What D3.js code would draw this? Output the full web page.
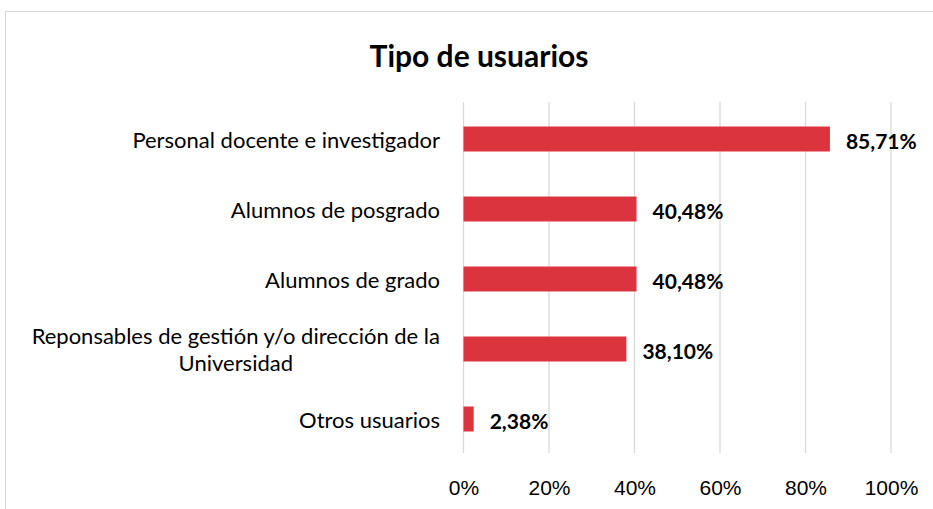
<!DOCTYPE html>
<html>
<head>
<meta charset="utf-8">
<script src="https://cdn.jsdelivr.net/npm/d3@7"></script>
<style>
  html, body { margin: 0; padding: 0; background: #fff; }
  svg { display: block; font-family: Lato, "Open Sans", sans-serif; }
</style>
</head>
<body>
<div id="chart"></div>
<script>
// Tipo de usuarios - horizontal bar chart

const categories = [
  ["Personal docente e investigador"],
  ["Alumnos de posgrado"],
  ["Alumnos de grado"],
  ["Reponsables de gestión y/o dirección de la", "Universidad"],
  ["Otros usuarios"]
];
const values = [85.71, 40.48, 40.48, 38.10, 2.38];
const tickValues = [0, 20, 40, 60, 80, 100];

const width = 933, height = 509;
const plot = { left: 463.5, right: 891, top: 104, bottom: 454 };

const svg = d3.select("#chart").append("svg")
  .attr("width", width)
  .attr("height", height);

// chart area border (continues past the picture edge)
svg.append("rect")
  .attr("x", 5.5).attr("y", 11.5)
  .attr("width", 1000).attr("height", 600)
  .attr("fill", "#fff")
  .attr("stroke", "#d9d9d9")
  .attr("stroke-width", 1);

svg.append("text")
  .attr("x", 479).attr("y", 55)
  .attr("text-anchor", "middle")
  .attr("dominant-baseline", "central")
  .style("font-size", "30px")
  .style("font-weight", "bold")
  .attr("fill", "#000")
  .text("Tipo de usuarios");

const data = categories.map((c, i) => ({ key: i, lines: c, value: values[i] }));

const x = d3.scaleLinear().domain([0, 100]).range([plot.left, plot.right]);
const y = d3.scaleBand()
  .domain(data.map(d => d.key))
  .range([plot.top, plot.bottom])
  .paddingInner(0.643)
  .paddingOuter(0.3215);

// gridlines
svg.append("g")
  .selectAll("line")
  .data(tickValues)
  .join("line")
  .attr("x1", d => x(d)).attr("x2", d => x(d))
  .attr("y1", 102).attr("y2", plot.bottom - 1)
  .attr("stroke", "#d9d9d9")
  .attr("stroke-width", 1.3);

// x tick labels
const xAxis = svg.append("g")
  .attr("transform", `translate(0,${plot.bottom})`)
  .call(d3.axisBottom(x).tickValues(tickValues).tickSize(0).tickPadding(0)
    .tickFormat(d => d + "%"));
xAxis.select(".domain").remove();
xAxis.selectAll("text")
  .attr("y", 33)
  .attr("dy", null)
  .attr("dominant-baseline", "central")
  .style("font-size", "21px")
  .style("font-family", "inherit")
  .attr("fill", "#000");

// bars
svg.append("g")
  .selectAll("rect")
  .data(data)
  .join("rect")
  .attr("x", x(0))
  .attr("y", d => y(d.key))
  .attr("width", d => x(d.value) - x(0))
  .attr("height", y.bandwidth())
  .attr("fill", "#dc343e");

// value labels
const fmt = v => v.toFixed(2).replace(".", ",") + "%";
svg.append("g")
  .selectAll("text")
  .data(data)
  .join("text")
  .attr("x", d => x(d.value) + 16)
  .attr("y", d => y(d.key) + y.bandwidth() / 2 + 1)
  .attr("dominant-baseline", "central")
  .style("font-size", "21px")
  .style("font-weight", "bold")
  .attr("fill", "#000")
  .text(d => fmt(d.value));

// category labels (wrapped ones are centred as a block)
const labelRight = 440;
const lineH = 27;
const catG = svg.append("g")
  .selectAll("g")
  .data(data)
  .join("g")
  .attr("transform", d => `translate(0,${y(d.key) + y.bandwidth() / 2})`);

catG.each(function (d) {
  const g = d3.select(this);
  const n = d.lines.length;
  const t = g.append("text")
    .style("font-size", "22px")
    .attr("fill", "#000");
  t.selectAll("tspan")
    .data(d.lines)
    .join("tspan")
    .attr("y", (l, i) => (i - (n - 1) / 2) * lineH)
    .attr("dominant-baseline", "central")
    .text(l => l);
  if (n === 1) {
    t.attr("text-anchor", "end").selectAll("tspan").attr("x", labelRight);
  } else {
    // measure widest line, centre every line inside it
    const w = d3.max(t.selectAll("tspan").nodes(), nd => nd.getComputedTextLength());
    t.attr("text-anchor", "middle").selectAll("tspan").attr("x", labelRight - w / 2);
  }
});
</script>
</body>
</html>
